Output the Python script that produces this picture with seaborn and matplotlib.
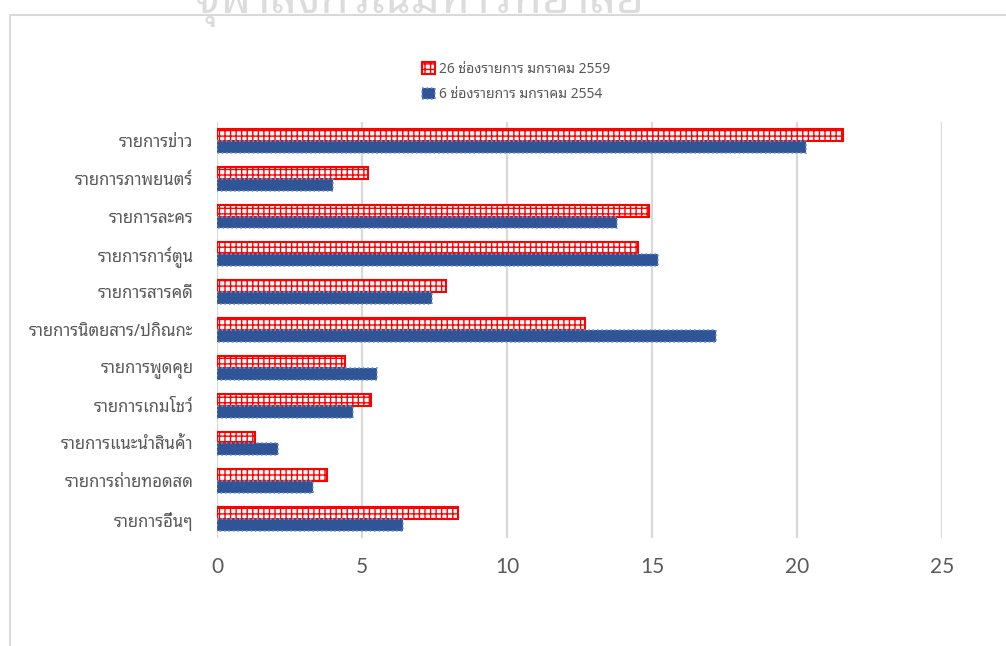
import matplotlib
matplotlib.use("Agg")
import pandas as pd
import numpy as np
import matplotlib.pyplot as plt
import seaborn as sns
from matplotlib.patches import Rectangle

# Datos
categorias = ['รายการข่าว', 'รายการภาพยนตร์', 'รายการละคร', 'รายการการ์ตูน',
              'รายการสารคดี', 'รายการนิตยสาร/ปกิณกะ', 'รายการพูดคุย',
              'รายการเกมโชว์', 'รายการแนะนำสินค้า', 'รายการถ่ายทอดสด',
              'รายการอื่นๆ']
serie_2559 = [21.6, 5.2, 14.9, 14.5, 7.9, 12.7, 4.4, 5.3, 1.3, 3.8, 8.3]
serie_2554 = [20.3, 4.0, 13.8, 15.2, 7.4, 17.2, 5.5, 4.7, 2.1, 3.3, 6.4]
series = ['26 ช่องรายการ มกราคม 2559', '6 ช่องรายการ มกราคม 2554']
x_ticks = [0, 5, 10, 15, 20, 25]

df = pd.DataFrame({
    'categoria': categorias * 2,
    'valor': serie_2559 + serie_2554,
    'serie': [series[0]] * len(categorias) + [series[1]] * len(categorias),
})

sns.set_style('white')
thai = ['Noto Sans Thai Looped', 'Noto Sans', 'DejaVu Sans']
plt.rcParams['font.family'] = thai
plt.rcParams['hatch.linewidth'] = 1.0

gris = '#595959'

fig = plt.figure(figsize=(10.06, 6.46), dpi=100)
ax = fig.add_axes([217 / 1006, 1 - 538 / 646, (942 - 217) / 1006, (538 - 122) / 646])

sns.barplot(data=df, y='categoria', x='valor', hue='serie', hue_order=series,
            palette=['#FF0000', '#2F5597'], width=0.63, gap=0, legend=False,
            ax=ax, orient='h')

# Estilo de barras
for p in ax.containers[0]:
    p.set_facecolor('white')
    p.set_edgecolor('#FF0000')
    p.set_hatch('+++')
    p.set_linewidth(1.5)
for p in ax.containers[1]:
    p.set_facecolor('#2F5597')
    p.set_edgecolor('#6F93D6')
    p.set_linestyle(':')
    p.set_linewidth(1.2)

ax.set_xlim(0, 25)
ax.set_xticks(x_ticks)
ax.set_xticklabels([str(t) for t in x_ticks], family=['Lato', 'DejaVu Sans'],
                   fontsize=15, color=gris)
ax.set_yticklabels(categorias, fontsize=12, color=gris)
ax.tick_params(axis='x', length=0, pad=14)
ax.tick_params(axis='y', length=0, pad=17)
ax.set_xlabel('')
ax.set_ylabel('')
ax.grid(axis='x', color='#D9D9D9', linewidth=1.6)
ax.grid(axis='y', visible=False)
ax.set_axisbelow(True)
for s in ax.spines.values():
    s.set_visible(False)

# Leyenda
leg = fig.legend(handles=[ax.containers[0], ax.containers[1]], labels=series,
                 loc='center', bbox_to_anchor=(0.513, 0.873), frameon=False,
                 fontsize=10, handlelength=0.9, handleheight=0.9,
                 handletextpad=0.3, labelspacing=0.75, labelcolor=gris)

# Marco y marca de agua
fig.patches.append(Rectangle((10 / 1006, -0.1), 1.2, 1.1 - 15 / 646,
                             transform=fig.transFigure, fill=False,
                             edgecolor='#D9D9D9', linewidth=1.5))
fig.text(420 / 1006, 1 - 13 / 646, 'จุฬาลงกรณ์มหาวิทยาลัย', ha='center',
         va='baseline', fontsize=33, fontweight='bold', color='#DCDCDC')

fig.savefig('out.png', dpi=100)
